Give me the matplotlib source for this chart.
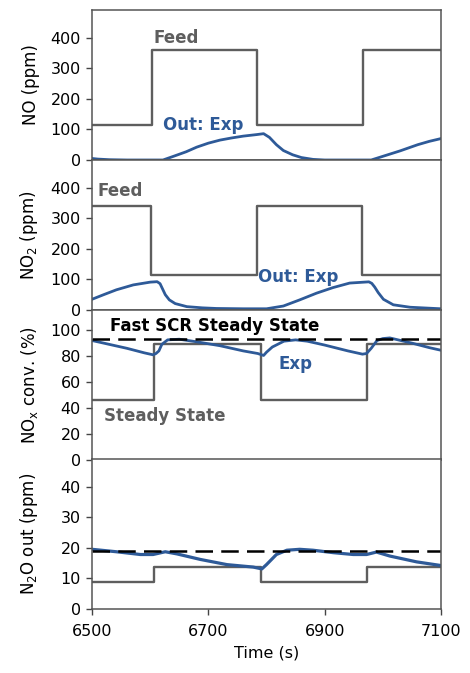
import matplotlib.pyplot as plt

# ---- data ----
# step (feed / steady state) signals: switch times and levels (post)
no_feed_t = [6500, 6603, 6784, 6966, 7100]
no_feed = [115, 360, 115, 360, 360]
no2_feed_t = [6500, 6601, 6783, 6965, 7100]
no2_feed = [340, 115, 340, 115, 115]
nox_ss_t = [6500, 6607, 6790, 6972, 7100]
nox_ss = [46.5, 89, 46.5, 89, 89]
n2o_ss_t = [6500, 6607, 6790, 6972, 7100]
n2o_ss = [8.9, 13.6, 8.9, 13.6, 13.6]
fast_scr_ss = 93.5
n2o_fast_ss = 18.9

# experimental outlet curves
no_out_t = [6500, 6510, 6530, 6560, 6622, 6640, 6662, 6680, 6700, 6720, 6740, 6760,
            6783, 6795, 6805, 6817, 6829, 6845, 6860, 6880, 6900, 6980, 7000, 7030,
            7060, 7080, 7100]
no_out = [5, 3, 1, 0, 0, 12, 27, 42, 55, 65, 72, 78, 83, 86, 74, 50, 31, 17, 8, 2, 0, 0,
          12, 30, 50, 61, 70]
no2_out_t = [6500, 6520, 6542, 6571, 6600, 6612, 6617, 6621, 6626, 6633, 6643, 6663,
             6690, 6714, 6760, 6800, 6829, 6857, 6886, 6914, 6943, 6976, 6981, 6986,
             6992, 7001, 7018, 7047, 7100]
no2_out = [35, 50, 66, 82, 91, 92.5, 86, 70, 50, 33, 21, 11, 7, 5, 4, 4, 13, 33, 55, 73,
           88, 92, 87, 75, 57, 35, 17, 9, 4]
nox_exp_t = [6500, 6530, 6560, 6590, 6605, 6610, 6615, 6620, 6630, 6650, 6680, 6720,
             6760, 6785, 6795, 6800, 6810, 6830, 6850, 6870, 6900, 6940, 6965, 6972,
             6980, 6990, 7000, 7012, 7050, 7080, 7100]
nox_exp = [92, 89, 86, 82.5, 81, 82, 84, 89, 92.5, 93, 91, 88, 84, 82, 80.5, 83, 87,
           91.5, 92.5, 91.5, 88.5, 84, 81.5, 82, 86, 92, 93.5, 94, 90, 86.5, 84.5]
n2o_exp_t = [6500, 6542, 6583, 6605, 6626, 6646, 6686, 6732, 6777, 6792, 6800, 6817,
             6835, 6857, 6880, 6915, 6949, 6972, 6989, 7012, 7058, 7100]
n2o_exp = [19.5, 18.7, 17.8, 17.8, 18.7, 18, 16.2, 14.5, 13.7, 13.1, 14.5, 17.8, 19.2,
           19.5, 19.2, 18.4, 17.8, 17.8, 18.6, 17.3, 15.4, 14.2]

grey = '#5e5e5e'
blue = '#2e5a98'

plt.rcParams['font.family'] = 'DejaVu Sans'
plt.rcParams['font.size'] = 11.5

fig = plt.figure(figsize=(4.70, 6.73), dpi=100)
left, width = 92 / 470, 349 / 470
tops = [10, 160, 310, 459]
ph = 150
axes = []
for tp in tops:
    ax = fig.add_axes([left, 1 - (tp + ph) / 673, width, ph / 673])
    axes.append(ax)
ax1, ax2, ax3, ax4 = axes

# NO
ax1.step(no_feed_t, no_feed, where='post', color=grey, lw=1.7)
ax1.plot(no_out_t, no_out, color=blue, lw=2)
ax1.set_ylim(0, 490)
ax1.set_yticks([0, 100, 200, 300, 400])
ax1.set_ylabel('NO (ppm)')
ax1.text(6605, 397, 'Feed', color=grey, fontweight='bold', fontsize=12, va='center')
ax1.text(6622, 115, 'Out: Exp', color=blue, fontweight='bold', fontsize=12, va='center')

# NO2
ax2.step(no2_feed_t, no2_feed, where='post', color=grey, lw=1.7)
ax2.plot(no2_out_t, no2_out, color=blue, lw=2)
ax2.set_ylim(0, 490)
ax2.set_yticks([0, 100, 200, 300, 400])
ax2.set_ylabel(r'NO$_\mathregular{2}$ (ppm)')
ax2.text(6510, 388, 'Feed', color=grey, fontweight='bold', fontsize=12, va='center')
ax2.text(6786, 107, 'Out: Exp', color=blue, fontweight='bold', fontsize=12, va='center')

# NOx conversion
ax3.step(nox_ss_t, nox_ss, where='post', color=grey, lw=1.7)
ax3.plot(nox_exp_t, nox_exp, color=blue, lw=2)
ax3.axhline(fast_scr_ss, color='black', lw=1.8, dashes=(7, 3.3))
ax3.set_ylim(0, 115.5)
ax3.set_yticks([0, 20, 40, 60, 80, 100])
ax3.set_ylabel(r'NO$_\mathregular{x}$ conv. (%)')
ax3.text(6531, 103, 'Fast SCR Steady State', color='black', fontweight='bold',
         fontsize=12, va='center')
ax3.text(6820, 74, 'Exp', color=blue, fontweight='bold', fontsize=12, va='center')
ax3.text(6521, 34, 'Steady State', color=grey, fontweight='bold', fontsize=12,
         va='center')

# N2O
ax4.step(n2o_ss_t, n2o_ss, where='post', color=grey, lw=1.7)
ax4.plot(n2o_exp_t, n2o_exp, color=blue, lw=2.3)
ax4.axhline(n2o_fast_ss, color='black', lw=1.8, dashes=(7, 3.3))
ax4.set_ylim(0, 49)
ax4.set_yticks([0, 10, 20, 30, 40])
ax4.set_ylabel(r'N$_\mathregular{2}$O out (ppm)')
ax4.set_xlabel('Time (s)', labelpad=5)

for ax in axes:
    ax.set_xlim(6500, 7100)
    ax.set_xticks([6500, 6700, 6900, 7100])
    ax.tick_params(axis='y', direction='out', length=4, width=1, color='#444444', pad=4)
    ax.tick_params(axis='x', direction='out', length=4, width=1, color='#444444', pad=6.5)
    for s in ax.spines.values():
        s.set_color('#555555')
        s.set_linewidth(1.1)
    ax.yaxis.set_label_coords(-0.15, 0.5)
    ax.yaxis.label.set_fontsize(12)
for ax in axes[:3]:
    ax.tick_params(axis='x', bottom=False, labelbottom=False)

fig.savefig('out.png', dpi=100)
